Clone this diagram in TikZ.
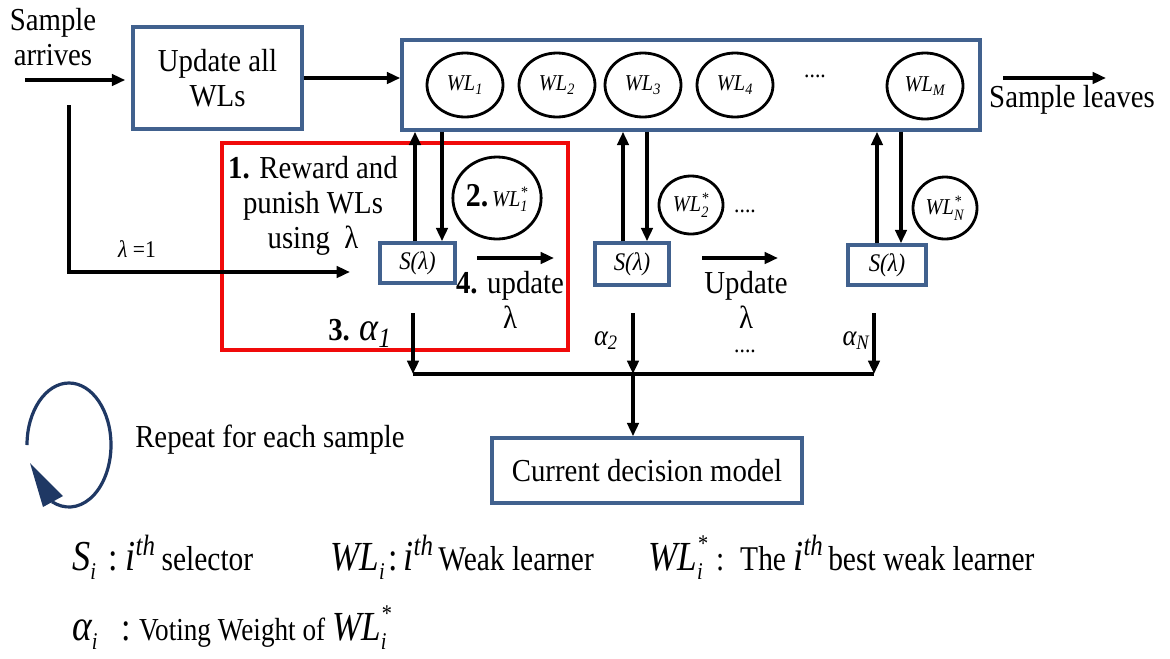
\documentclass[tikz,border=0pt]{standalone}
\usepackage{fontspec}
\usepackage{amsmath}
\setmainfont{Liberation Serif}[FakeStretch=0.9]
\newfontfamily\legfont{Liberation Serif}[FakeStretch=0.85]
\usetikzlibrary{shapes.geometric,arrows.meta,calc}
\definecolor{boxblue}{RGB}{65,97,142}
\definecolor{loopblue}{RGB}{31,56,100}
\definecolor{redbox}{RGB}{240,10,10}
\newcommand\ith{{\fontsize{32}{32}\selectfont\itshape i}\raisebox{11pt}{\fontsize{22}{22}\selectfont\itshape th}}
\newcommand\legsub[1]{\raisebox{-7pt}{\fontsize{18}{18}\selectfont\itshape #1}}
\newcommand\legsubsup[2]{\rlap{\raisebox{14pt}{\fontsize{18}{18}\selectfont\itshape #1}}\raisebox{-7pt}{\fontsize{18}{18}\selectfont\itshape #2}}
\begin{document}
\begin{tikzpicture}[x=0.75pt,y=-0.75pt,
  bx/.style 2 args={draw=boxblue, line width=2.6pt, inner sep=0pt,
     minimum width=#1*0.75pt, minimum height=#2*0.75pt},
  wl/.style 2 args={draw=black, line width=2.1pt, ellipse, inner sep=0pt,
     minimum width=#1*0.75pt, minimum height=#2*0.75pt,
     font=\fontsize{17}{17}\selectfont\itshape},
  arr/.style={line width=2.5pt, -{Triangle[length=10pt,width=8.5pt]}},
  ln/.style={line width=2.5pt},
  txt/.style={font=\fontsize{24}{26}\selectfont, align=center, inner sep=0pt},
  stxt/.style={font=\fontsize{19}{19}\selectfont\itshape, inner sep=0pt},
  leg/.style={font=\legfont\fontsize{26}{26}\selectfont, inner sep=0pt, anchor=base west}
]
\useasboundingbox (0,0) rectangle (1170,658);

% red focus frame (drawn first, lines pass over it)
\node[draw=redbox, line width=2.6pt, minimum width=346*0.75pt, minimum height=207*0.75pt, inner sep=0pt] (focus) at (395,246.5) {};

% top row
\node[txt] (sa) at (53,37) {Sample\\arrives};
\node[bx={169}{102}, txt] (upd) at (217.5,78) {Update all\\WLs};
\node[bx={578}{90}] (wls) at (691,85) {};
\node[wl={76}{64}] (wl1) at (465,85) {WL$_{\text{1}}$};
\node[wl={76}{64}] (wl2) at (557,85) {WL$_{\text{2}}$};
\node[wl={76}{64}] (wl3) at (643,85) {WL$_{\text{3}}$};
\node[wl={76}{64}] (wl4) at (735,85) {WL$_{\text{4}}$};
\node[txt, font=\fontsize{18}{18}\selectfont] (dtop) at (815,76) {....};
\node[wl={76}{66}] (wlm) at (925,86) {WL$_{\text{M}}$};
\node[txt] (sl) at (1072,100) {Sample leaves};

\coordinate (in) at (25,80);
\draw[arr] (in) -- (in -| {$(upd.west)+(-6,0)$});
\draw[arr] (upd.east) -- (upd.east -| wls.west);
\coordinate (out0) at (1003,78);
\coordinate (out1) at (1106,78);
\draw[arr] (out0) -- (out1);

% selectors
\node[bx={75}{40}, stxt] (s1) at (417.5,263) {S(λ)};
\node[bx={74}{42}, stxt] (s2) at (632,264) {S(λ)};
\node[bx={78}{40}, stxt] (s3) at (887,265) {S(λ)};

\coordinate (u1) at ($(s1.north)+(-2.5,0)$);
\coordinate (v1) at ($(s1.north)+(24.5,0)$);
\coordinate (u2) at ($(s2.north)+(-9,0)$);
\coordinate (v2) at ($(s2.north)+(15,0)$);
\coordinate (u3) at ($(s3.north)+(-10,0)$);
\coordinate (v3) at ($(s3.north)+(14,0)$);
\draw[arr] (u1) -- (u1 |- wls.south);
\draw[arr] (v1 |- wls.south) -- (v1);
\draw[arr] (u2) -- (u2 |- wls.south);
\draw[arr] (v2 |- wls.south) -- (v2);
\draw[arr] (u3) -- (u3 |- wls.south);
\draw[arr] (v3 |- wls.south) -- (v3);

% best weak learners
\node[wl={88}{82}] (ws1) at (497,198) {{\upshape\bfseries\fontsize{25}{25}\selectfont 2.}\,WL$^{\text{*}}_{\text{1}}$};
\node[wl={64}{58}] (ws2) at (691,205) {WL$^{\text{*}}_{\text{2}}$};
\node[txt, font=\fontsize{18}{18}\selectfont] (dmid) at (745,211) {....};
\node[wl={64}{62}] (wsn) at (945,208) {WL$^{\text{*}}_{\text{N}}$};

% step 1 text
\node[txt] (step1) at (313,206) {\textbf{1.} Reward and\\punish WLs\\using\ \ λ};

% lambda = 1 path
\coordinate (lstart) at (69,105);
\coordinate (lend) at (350,272);
\draw[arr] (lstart) |- (lend);
\node[stxt, font=\fontsize{18}{18}\selectfont] (lam1) at (137,249) {{\itshape λ} =1};

% update lambda arrows
\coordinate (h1a) at (477,258);
\coordinate (h1b) at (554,258);
\coordinate (h2a) at (702,258);
\coordinate (h2b) at (778,258);
\draw[arr] (h1a) -- (h1b);
\draw[arr] (h2a) -- (h2b);
\node[txt] (upd4) at (510,300) {\textbf{4.} update\\λ};
\node[txt] (upd5) at (746,300) {Update\\λ};
\node[txt, font=\fontsize{18}{18}\selectfont] (dbot) at (745,351) {....};

% alphas
\node[txt, anchor=base west] (al1) at (328,340) {\textbf{3.} {\fontsize{30}{30}\selectfont\itshape α$_{\text{1}}$}};
\node[txt, anchor=base, font=\fontsize{22}{22}\selectfont\itshape] (al2) at (606,345) {α$_{\text{2}}$};
\node[txt, anchor=base, font=\fontsize{22}{22}\selectfont\itshape] (aln) at (856,345) {α$_{\text{N}}$};

% voting
\coordinate (d1) at (413,313);
\coordinate (d2) at (633,313);
\coordinate (d3) at (874,313);
\coordinate (j1) at (413,374);
\coordinate (j2) at (633,374);
\coordinate (j3) at (874,374);
\draw[ln] (j1) -- (j3);
\draw[arr] (d1) -- (j1);
\draw[arr] (d2) -- (j2);
\draw[arr] (d3) -- (j3);
\node[bx={310}{65}, txt] (cdm) at (647,470.5) {Current decision model};
\draw[arr] (j2) -- (j2 |- cdm.north);

% repeat loop
\draw[loopblue, line width=2.4pt] (69,445) ++(180:42 and 62) arc[start angle=180, end angle=474, x radius=42, y radius=62];
\fill[loopblue] (30,463) -- (63,496) -- (43,507) -- cycle;
\node[txt, anchor=west] (rep) at (135,440) {Repeat for each sample};

% legend
\node[leg] (lg1) at (72,570) {{\fontsize{32}{32}\selectfont\itshape S}\legsub{i}\hspace{9pt}{\fontsize{30}{30}\selectfont :}\hspace{6pt}\ith\hspace{5pt}selector};
\node[leg] (lg2) at (330,570) {{\fontsize{31}{31}\selectfont\itshape WL}\legsub{i}\hspace{3pt}{\fontsize{30}{30}\selectfont :}\hspace{4pt}\ith\hspace{4pt}Weak learner};
\node[leg] (lg3) at (648,570) {{\fontsize{31}{31}\selectfont\itshape WL}\legsubsup{*}{i}\hspace{10pt}{\fontsize{26}{26}\selectfont :}\hspace{12pt}The \ith\hspace{4pt}best weak learner};
\node[leg, font=\legfont\fontsize{24}{24}\selectfont] (lg4) at (72,640) {{\fontsize{33}{33}\selectfont\itshape α}\legsub{i}\hspace{18pt}{\fontsize{30}{30}\selectfont :}\hspace{6pt}Voting Weight of {\fontsize{31}{31}\selectfont\itshape WL}\legsubsup{*}{i}};
\end{tikzpicture}
\end{document}
